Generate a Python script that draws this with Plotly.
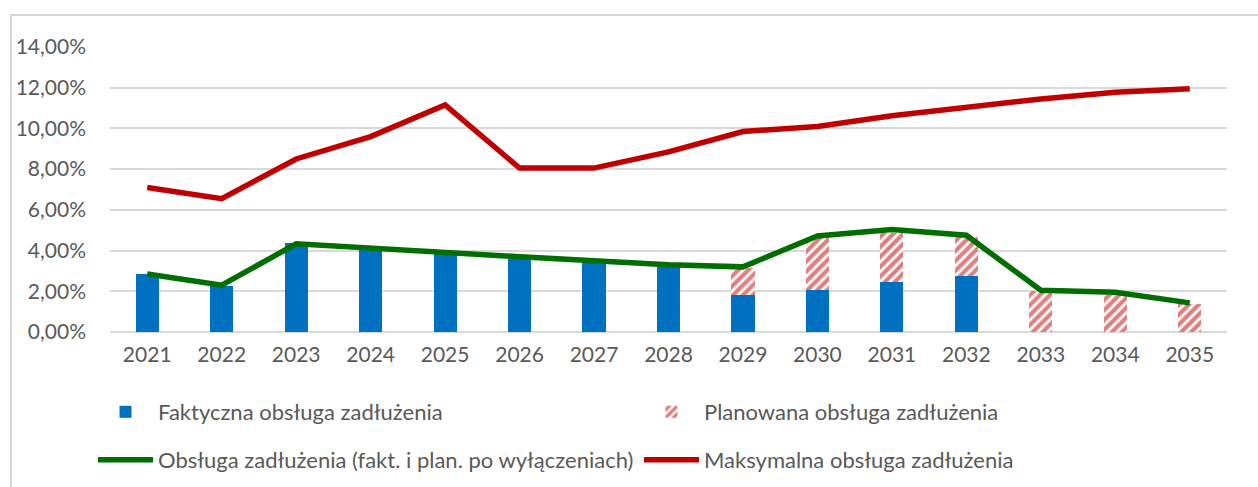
import plotly.graph_objects as go

years = [str(y) for y in range(2021, 2036)]
faktyczna = [2.85, 2.26, 4.37, 4.10, 3.85, 3.70, 3.50, 3.30, 1.80, 2.05, 2.45, 2.75, None, None, None]
planowana = [None, None, None, None, None, None, None, None, 1.35, 2.55, 2.40, 1.90, 2.00, 1.80, 1.40]
obsluga = [2.85, 2.30, 4.33, 4.12, 3.85, 3.70, 3.50, 3.30, 3.20, 4.72, 5.03, 4.75, 2.05, 1.95, 1.43]
maksymalna = [7.10, 6.55, 8.50, 9.60, 11.15, 8.05, 8.05, 8.85, 9.85, 10.10, 10.62, 11.05, 11.45, 11.78, 11.95]

FONT = "Lato"
TXT = "#595959"
GRID = "#d9d9d9"

fig = go.Figure()
fig.add_trace(go.Bar(x=years, y=faktyczna, name="Faktyczna obsługa zadłużenia",
                     marker=dict(color="#0070C0", line=dict(width=0)), width=0.31, legend="legend"))
fig.add_trace(go.Bar(x=years, y=planowana, name="Planowana obsługa zadłużenia",
                     marker=dict(color="white", line=dict(width=0),
                                 pattern=dict(shape="/", fgcolor="#C00000", bgcolor="white",
                                              size=7, solidity=0.6)),
                     width=0.31, legend="legend2"))
fig.add_trace(go.Scatter(x=years, y=obsluga, mode="lines",
                         name="Obsługa zadłużenia (fakt. i plan. po wyłączeniach)",
                         line=dict(color="#006E00", width=5.5), legend="legend3"))
fig.add_trace(go.Scatter(x=years, y=maksymalna, mode="lines",
                         name="Maksymalna obsługa zadłużenia",
                         line=dict(color="#C00000", width=5.5), legend="legend4"))

leg_common = dict(orientation="h", xanchor="left", yanchor="middle",
                  font=dict(family=FONT, size=22, color=TXT),
                  bgcolor="rgba(0,0,0,0)", itemwidth=55)

def px_x(px):
    return (px - 110) / 1117

def px_y(py):
    return (332 - py) / 285

fig.update_layout(
    width=1258, height=487,
    margin=dict(l=110, r=31, t=47, b=155, autoexpand=False),
    paper_bgcolor="white", plot_bgcolor="white",
    separators=", ",
    barmode="stack",
    showlegend=True,
    font=dict(family=FONT, color=TXT, size=21),
    xaxis=dict(type="category", showgrid=False, showline=False, ticks="",
               tickfont=dict(family=FONT, size=21, color=TXT), ticklabelstandoff=8),
    yaxis=dict(range=[0, 14], dtick=2, tickformat=".2f", ticksuffix="%",
               showgrid=True, gridcolor=GRID, gridwidth=1.5, zeroline=True,
               zerolinecolor=GRID, zerolinewidth=1.5, showline=False, ticks="",
               tickfont=dict(family=FONT, size=21, color=TXT), ticklabelstandoff=23),
    legend=dict(x=px_x(93), y=px_y(412), **leg_common),
    legend2=dict(x=px_x(639), y=px_y(412), **leg_common),
    legend3=dict(x=px_x(93), y=px_y(460), **leg_common),
    legend4=dict(x=px_x(639), y=px_y(460), **leg_common),
    shapes=[dict(type="rect", xref="paper", yref="paper",
                 x0=px_x(11), x1=px_x(1275),
                 y0=px_y(520), y1=px_y(15),
                 line=dict(color=GRID, width=2), fillcolor="rgba(0,0,0,0)", layer="below")],
)

fig.write_html("out.html")
